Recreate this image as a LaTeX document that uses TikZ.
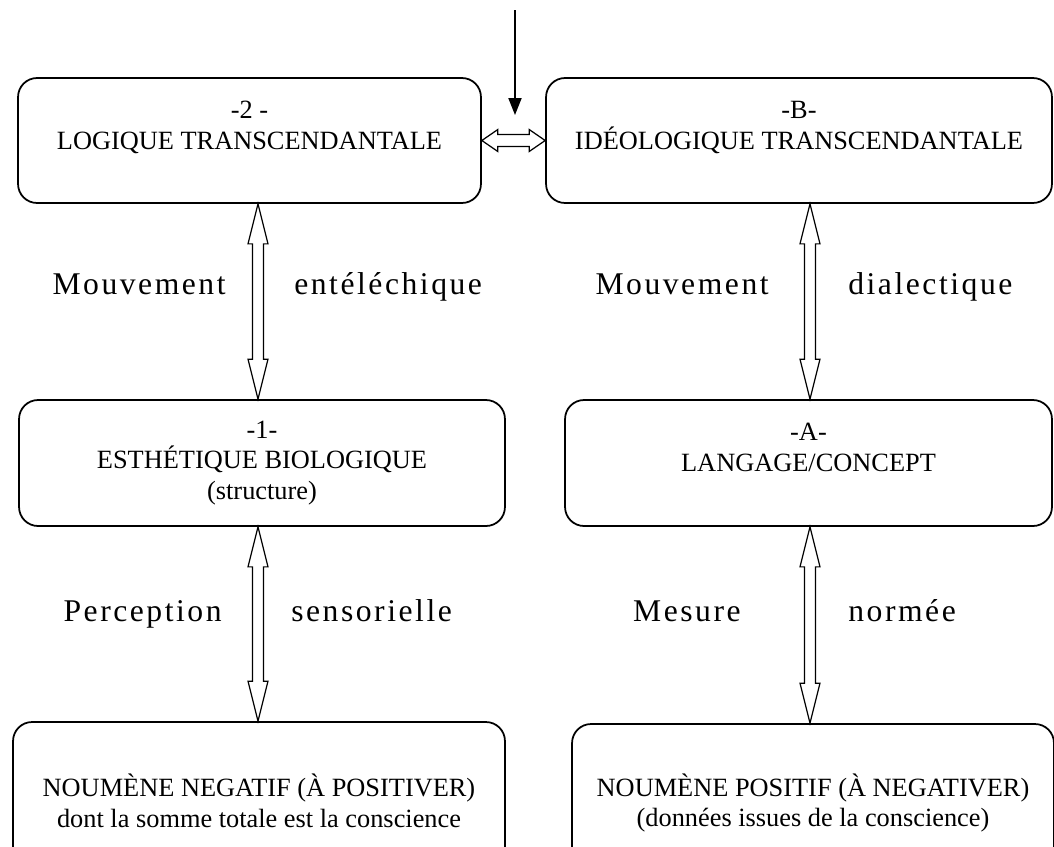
\documentclass[tikz,border=0pt]{standalone}
\usepackage{fontspec}
\setmainfont{Liberation Serif}
\newfontfamily\spacedfont[LetterSpace=8]{Liberation Serif}
\usetikzlibrary{arrows.meta,calc}
\tikzset{
  hollow/.style={draw=black,fill=white,line width=0.7pt,line join=miter},
}
% outlined double arrow between two boxes, on the column #1
\newcommand\vhollow[3]{%
  \draw[hollow] let \p1=(#1 |- #2.south), \p2=(#1 |- #3.north) in
    (\p1) -- (\x1+0.2cm,\y1-0.8cm) -- (\x1+0.11cm,\y1-0.8cm)
    -- (\x1+0.11cm,\y2+0.8cm) -- (\x1+0.2cm,\y2+0.8cm) -- (\p2)
    -- (\x1-0.2cm,\y2+0.8cm) -- (\x1-0.11cm,\y2+0.8cm)
    -- (\x1-0.11cm,\y1-0.8cm) -- (\x1-0.2cm,\y1-0.8cm) -- cycle;}

\begin{document}
\begin{tikzpicture}[
        x=0.02cm, y=-0.02cm,
        box/.style = {
          rectangle, rounded corners=0.38cm,
          draw, line width=1pt,
          align=center, inner sep=0pt,
          font=\fontsize{15}{17.5}\selectfont
        },
        lbl/.style = {inner sep=0pt, font=\spacedfont\fontsize{18}{21}\selectfont},
        arr/.style = {-{Triangle[length=0.34cm,width=0.26cm]}, line width=1.1pt}
      ]
        \useasboundingbox (0,0) rectangle (1054,846);
        % boxes
        \node[box, minimum width=9.26cm, minimum height=2.5cm] (logique) at (249.5,140.5)
          {-2 -\\LOGIQUE TRANSCENDANTALE\\~};
        \node[box, minimum width=10.12cm, minimum height=2.5cm] (ideo) at (799,140.5)
          {-B-\\ID\'EOLOGIQUE TRANSCENDANTALE\\~};
        \node[box, minimum width=9.72cm, minimum height=2.52cm] (esthe) at (262,463)
          {-1-\\ESTH\'ETIQUE BIOLOGIQUE\\(structure)};
        \node[box, minimum width=9.74cm, minimum height=2.52cm] (langage) at (808.5,463)
          {-A-\\LANGAGE/CONCEPT\\~};
        \node[box, minimum width=9.84cm, minimum height=3cm] (noumneg) at (259,797)
          {~\\NOUM\`ENE NEGATIF (\`A POSITIVER)\\dont la somme totale est la conscience};
        \node[box, minimum width=9.64cm, minimum height=3cm] (noumpos) at (813,799)
          {~\\NOUM\`ENE POSITIF (\`A NEGATIVER)\\(donn\'ees issues de la conscience)};
        % columns of the vertical arrows
        \coordinate (lcol) at (258,0);
        \coordinate (rcol) at (810,0);
        \foreach \c/\a/\b in {lcol/logique/esthe, lcol/esthe/noumneg,
                              rcol/ideo/langage, rcol/langage/noumpos}
          \vhollow{\c}{\a}{\b};
        \draw[hollow] let \p1=(logique.east), \p2=(ideo.west) in
          (\p1) -- (\x1+0.32cm,\y1+0.22cm) -- (\x1+0.32cm,\y1+0.12cm)
          -- (\x2-0.32cm,\y1+0.12cm) -- (\x2-0.32cm,\y1+0.22cm) -- (\x2,\y1)
          -- (\x2-0.32cm,\y1-0.22cm) -- (\x2-0.32cm,\y1-0.12cm)
          -- (\x1+0.32cm,\y1-0.12cm) -- (\x1+0.32cm,\y1-0.22cm) -- cycle;
        % incoming arrow
        \coordinate (entry) at (515,10);
        \coordinate (entryend) at (515,115);
        \draw[arr] (entry) -- (entryend);
        % labels
        \node[lbl, anchor=base east] (mvta) at (226,294) {Mouvement};
        \node[lbl, anchor=base west] (entel) at (294,294) {ent\'el\'echique};
        \node[lbl, anchor=base east] (mvtb) at (769,294) {Mouvement};
        \node[lbl, anchor=base west] (dialec) at (848,294) {dialectique};
        \node[lbl, anchor=base east] (percep) at (222,621) {Perception};
        \node[lbl, anchor=base west] (sensor) at (291,621) {sensorielle};
        \node[lbl, anchor=base east] (mesure) at (741,621) {Mesure};
        \node[lbl, anchor=base west] (normee) at (848,621) {norm\'ee};
      \end{tikzpicture}
\end{document}
